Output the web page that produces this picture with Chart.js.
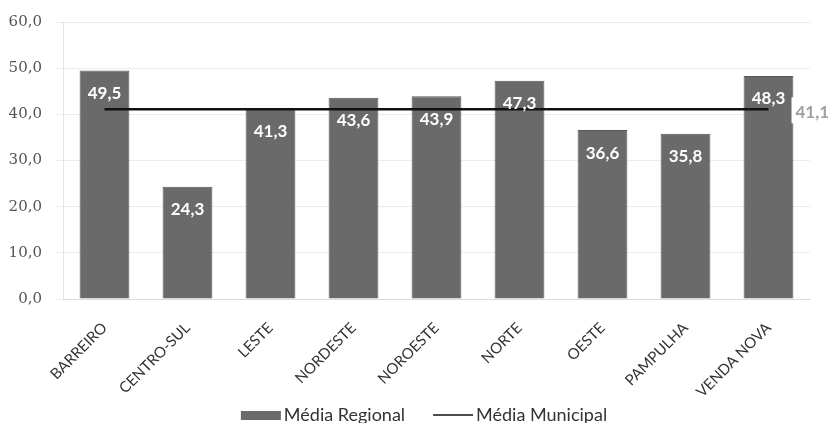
<!DOCTYPE html>
<html>
<head>
<meta charset="utf-8">
<script src="https://cdn.jsdelivr.net/npm/chart.js@4/dist/chart.umd.min.js"></script>
<style>
html,body{margin:0;padding:0;background:#fff;overflow:hidden;}
#wrap{width:829px;height:423px;position:relative;}
</style>
</head>
<body>
<div id="wrap"><canvas id="c" width="829" height="423"></canvas></div>
<script>
const categories = ['BARREIRO','CENTRO-SUL','LESTE','NORDESTE','NOROESTE','NORTE','OESTE','PAMPULHA','VENDA NOVA'];
const regionalValues = [49.5, 24.3, 41.3, 43.6, 43.9, 47.3, 36.6, 35.8, 48.3];
const municipalValues = [41.1, 41.1, 41.1, 41.1, 41.1, 41.1, 41.1, 41.1, 41.1];
const yTicks = [0, 10, 20, 30, 40, 50, 60];

const fmt = v => v.toFixed(1).replace('.', ',');

const labelPlugin = {
  id: 'valueLabels',
  afterDatasetsDraw(chart) {
    const ctx = chart.ctx;
    const barMeta = chart.getDatasetMeta(0);
    ctx.save();
    ctx.font = 'bold 17px Lato, "Open Sans", sans-serif';
    ctx.fillStyle = '#ffffff';
    ctx.textAlign = 'center';
    ctx.textBaseline = 'middle';
    barMeta.data.forEach((el, i) => {
      ctx.fillText(fmt(regionalValues[i]), el.x, el.y + 23);
    });
    const lineMeta = chart.getDatasetMeta(1);
    const last = lineMeta.data[lineMeta.data.length - 1];
    const txt = fmt(municipalValues[municipalValues.length - 1]);
    const w = ctx.measureText(txt).width;
    const bx = last.x + 23;
    ctx.fillStyle = '#ffffff';
    ctx.fillRect(bx, last.y - 12, w + 8, 26);
    ctx.fillStyle = '#a0a0a0';
    ctx.textAlign = 'left';
    ctx.fillText(txt, bx + 4, last.y + 3);
    ctx.restore();
  }
};

const legendPlugin = {
  id: 'bottomLegend',
  afterDraw(chart) {
    const ctx = chart.ctx;
    const ds = chart.data.datasets;
    ctx.save();
    ctx.font = '18px Lato, "Open Sans", sans-serif';
    ctx.textBaseline = 'middle';
    ctx.textAlign = 'left';
    const symW = 40, gapSym = 3, gapItem = 28;
    const widths = ds.map(d => ctx.measureText(d.label).width);
    const total = widths.reduce((a, b) => a + b, 0) + ds.length * (symW + gapSym) + gapItem * (ds.length - 1);
    let x = 424 - total / 2;
    const y = 415;
    ds.forEach((d, i) => {
      if (d.type === 'bar') {
        ctx.fillStyle = d.backgroundColor;
        ctx.fillRect(x, y - 4, symW, 9);
      } else {
        ctx.strokeStyle = d.borderColor;
        ctx.lineWidth = 1.5;
        ctx.beginPath();
        ctx.moveTo(x, y);
        ctx.lineTo(x + symW, y);
        ctx.stroke();
      }
      x += symW + gapSym;
      ctx.fillStyle = '#333';
      ctx.fillText(d.label, x, y);
      x += widths[i] + gapItem;
    });
    ctx.restore();
  }
};

new Chart(document.getElementById('c'), {
  data: {
    labels: categories,
    datasets: [
      {
        type: 'bar',
        label: 'Média Regional',
        data: regionalValues,
        backgroundColor: '#6a6a6a',
        borderColor: '#585858',
        borderWidth: 1,
        categoryPercentage: 1,
        barPercentage: 0.6,
        order: 1
      },
      {
        type: 'line',
        label: 'Média Municipal',
        data: municipalValues,
        borderColor: '#111111',
        backgroundColor: '#111111',
        borderWidth: 2.5,
        pointRadius: 0,
        fill: false,
        order: 0
      }
    ]
  },
  options: {
    responsive: false,
    animation: false,
    events: [],
    layout: { padding: { top: 19, right: 19, left: 0, bottom: 22 } },
    scales: {
      x: {
        grid: { display: false },
        border: { color: '#dcdcdc' },
        ticks: {
          color: '#333',
          font: { family: 'Lato, "Open Sans", sans-serif', size: 15 },
          minRotation: 45, maxRotation: 45, padding: 12
        },
        afterFit(scale) { scale.height = 102; }
      },
      y: {
        min: 0, max: 60,
        afterBuildTicks(scale) { scale.ticks = yTicks.map(v => ({ value: v })); },
        grid: { color: '#ececec' },
        border: { color: '#e4e4e4' },
        ticks: {
          color: '#555',
          font: { family: '"DejaVu Serif", "Liberation Serif", serif', size: 15 },
          padding: 13,
          callback: v => fmt(v)
        },
        afterFit(scale) { scale.width = 63; }
      }
    },
    plugins: {
      legend: { display: false },
      tooltip: { enabled: false }
    }
  },
  plugins: [labelPlugin, legendPlugin]
});
</script>
</body>
</html>
